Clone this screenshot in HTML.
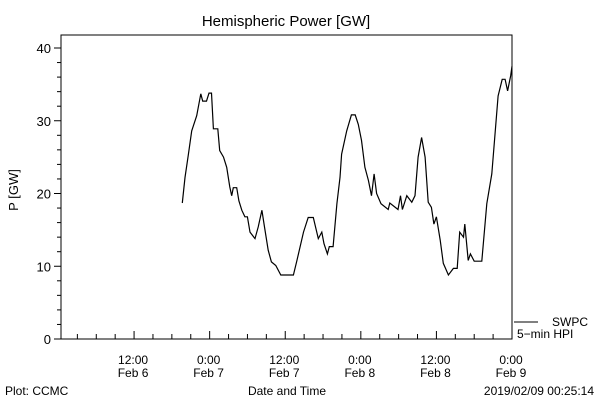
<!DOCTYPE html>
<html><head><meta charset="utf-8"><style>
body{margin:0;background:#fff;width:600px;height:400px;overflow:hidden}
svg{display:block;font-family:"Liberation Sans",sans-serif;font-size:12px}
</style></head><body>
<svg id="chart" width="600" height="400">
<text x="286" y="26" text-anchor="middle" font-size="15">Hemispheric Power [GW]</text>
<g id="frame"></g>
<g id="yaxis"></g>
<g id="xaxis"></g>
<text x="18" y="190" text-anchor="middle" transform="rotate(-90 18 190)" font-size="13">P [GW]</text>
<text x="287" y="395" text-anchor="middle">Date and Time</text>
<text x="5" y="395">Plot: CCMC</text>
<text x="594" y="395" text-anchor="end">2019/02/09 00:25:14</text>
<g>
<line x1="514" y1="322" x2="538" y2="322" stroke="#000"/>
<text x="552" y="326">SWPC</text>
<text x="517" y="338">5−min HPI</text>
</g>
</svg>
<script>
const hours=[19.65,20.08,20.6,21.15,21.94,22.6,22.9,23.5,23.9,24.3,24.6,25.3,25.6,26.2,26.7,27.2,27.5,27.75,28.3,28.65,29.1,29.6,30.0,30.4,31.2,31.7,32.3,32.7,33.3,33.8,34.5,35.3,37.3,37.8,38.9,39.65,40.45,41.25,41.8,42.15,42.7,43.0,43.6,44.2,44.7,44.95,45.75,46.5,47.1,47.6,48.1,48.65,49.2,49.7,50.1,50.5,51.2,52.35,52.6,53.9,54.3,54.6,55.3,56.1,56.6,57.1,57.65,58.2,58.7,59.2,59.6,60.0,60.6,61.1,61.9,62.7,63.3,63.7,64.3,64.5,65.05,65.4,66.0,67.2,68.0,68.8,69.8,70.45,70.9,71.3,71.8,72.0];
const power=[18.7,22.2,25.2,28.6,30.7,33.7,32.7,32.7,33.8,33.8,28.9,28.9,25.9,25,23.6,20.9,19.7,20.8,20.8,19,17.7,16.8,16.8,14.7,13.8,15.4,17.7,15.4,12.2,10.6,10.1,8.8,8.8,10.6,14.7,16.7,16.7,13.8,14.7,13.1,11.7,12.7,12.7,18.6,22.2,25.4,28.6,30.8,30.8,29.5,27.3,23.6,21.8,19.7,22.7,20,18.6,17.8,18.7,17.8,19.7,17.8,19.7,18.8,19.7,25,27.7,25,18.8,18.1,15.8,16.8,13.6,10.4,8.8,9.7,9.7,14.7,14,15.8,10.8,11.7,10.7,10.7,18.6,22.7,33.4,35.7,35.7,34.1,36.2,37.5];
const yTicks=[0,10,20,30,40];
const xTickHours=[12,24,36,48,60,72];
const xTickLabels=[["12:00","Feb 6"],["0:00","Feb 7"],["12:00","Feb 7"],["0:00","Feb 8"],["12:00","Feb 8"],["0:00","Feb 9"]];
const NS="http://www.w3.org/2000/svg";
const L=61,R=512,T=35,B=339,h0=0.4,h1=72;
const xs=h=>L+(h-h0)/(h1-h0)*(R-L);
const ys=v=>B-v/40*(B-48);
function mk(tag,attrs,parent){const e=document.createElementNS(NS,tag);for(const k in attrs)e.setAttribute(k,attrs[k]);parent.appendChild(e);return e;}
const svg=document.getElementById('chart');
const frame=document.getElementById('frame');
const fr=mk('path',{d:`M${L} ${B}V${T}H${R}V${B}H${L}`,fill:'none',stroke:'#000'},frame);


const ya=document.getElementById('yaxis');
for(let v=0;v<=40;v+=2){const major=v%10===0;const t=mk('line',{x1:L-(major?7:4),x2:L,y1:ys(v),y2:ys(v),stroke:'#000'},ya);

}
yTicks.forEach(v=>{const t=mk('text',{x:L-10,y:ys(v)+5,'text-anchor':'end','font-size':'13'},ya);t.textContent=v;

});
const xa=document.getElementById('xaxis');
for(let h=3;h<=72;h+=3){const major=h%12===0;const t=mk('line',{x1:xs(h),x2:xs(h),y1:B,y2:B-(major?8:5),stroke:'#000'},xa);

}
xTickHours.forEach((h,i)=>{[0,1].forEach(j=>{const t=mk('text',{x:xs(h)-1,y:364+j*13,'text-anchor':'middle'},xa);t.textContent=xTickLabels[i][j];

});});
const pts=hours.map((h,i)=>xs(h).toFixed(1)+','+ys(power[i]).toFixed(1)).join(' ');
const line=mk('polyline',{points:pts,fill:'none',stroke:'#000','stroke-width':'1.2'},svg);


</script>
</body></html>
